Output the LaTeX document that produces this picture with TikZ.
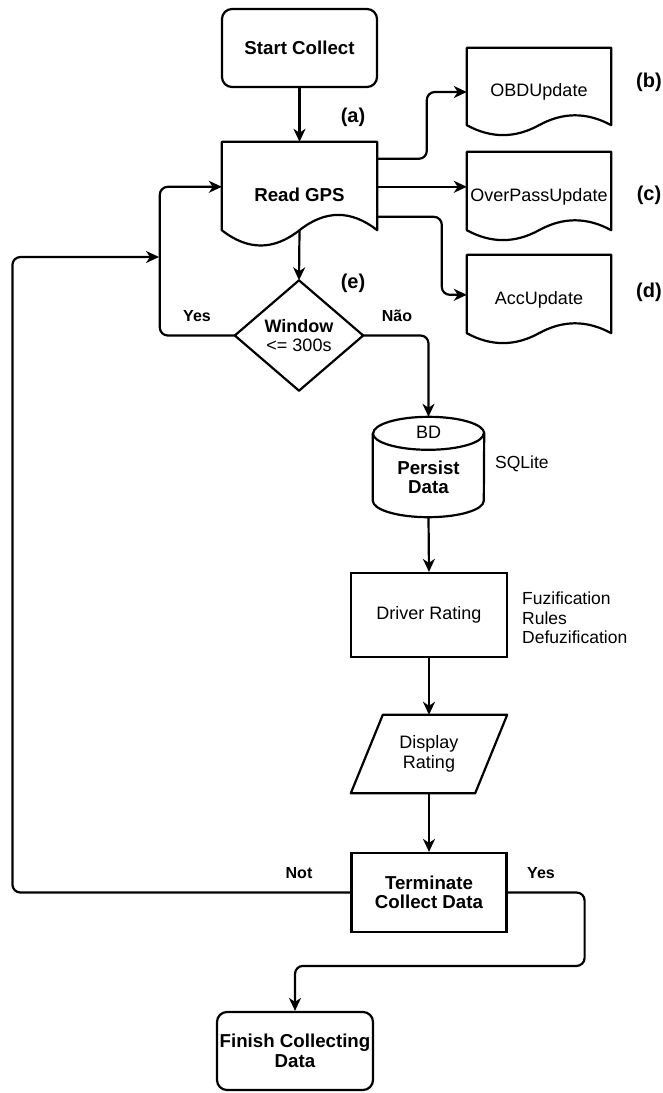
\documentclass[tikz,border=0pt]{standalone}
\usepackage{fontspec}
\setmainfont{Liberation Sans}
\usetikzlibrary{arrows.meta,calc}
\newcommand\flowdoc[3]{%
  \draw[shapeline] (#1.north west) -- (#1.north east) -- ($(#1.south east)+(0,-#3/2)$)
    .. controls ($(#1.south)+(#2/3,-1.1*#3)$) and ($(#1.south)+(#2/6,-1.1*#3)$) .. ($(#1.south)+(0,-#3/2)$)
    .. controls ($(#1.south)+(-#2/6,0.1*#3)$) and ($(#1.south)+(-#2/3,0.1*#3)$) .. ($(#1.south west)+(0,-#3/2)$)
    -- cycle;}
\newcommand\bt{\bfseries\fontsize{18.7}{20}\selectfont}
\begin{document}
\begin{tikzpicture}[x=1pt,y=-1pt,
  txt/.style={font=\fontsize{18}{19.5}\selectfont, align=center, inner sep=0pt, text=black},
  shapeline/.style={draw=black, line width=2.2pt, line join=round},
  hold/.style={txt, draw=none},
  box/.style={txt, draw=black, line width=2.2pt, minimum width=155pt, minimum height=79pt},
  rbox/.style={box, rounded corners=10pt},
  conn/.style={draw=black, line width=2.2pt, rounded corners=8pt, -{Stealth[length=13pt,width=12pt,inset=4pt]}},
  lbl/.style={font=\bfseries\fontsize{16}{18}\selectfont, inner sep=0pt},
  tag/.style={font=\bfseries\fontsize{20}{22}\selectfont, inner sep=0pt},
  side/.style={font=\fontsize{17.5}{19.5}\selectfont, align=left, anchor=west, inner sep=0pt}
]
\useasboundingbox[fill=white] (0,0) rectangle (662,1093);

% nodes
\node[rbox, minimum height=78pt] (start) at (299.5,48) {\bt Start Collect};

\node[hold, minimum width=155pt, minimum height=105pt] (gps) at (299.5,194.5) {\bt Read GPS};
\flowdoc{gps}{155}{34}

\node[hold, minimum width=144pt, minimum height=88pt] (obd) at (539,92) {OBDUpdate};
\flowdoc{obd}{144}{22}
\node[hold, minimum width=144pt, minimum height=89pt] (op) at (539,196.5) {OverPassUpdate};
\flowdoc{op}{144}{22}
\node[hold, minimum width=144pt, minimum height=89pt] (acc) at (539,299.5) {AccUpdate};
\flowdoc{acc}{144}{22}

\node[hold, minimum width=128pt, minimum height=110pt] (dec) at (299,335.5) {\bfseries Window\\ <= 300s};
\draw[shapeline] (dec.north) -- (dec.east) -- (dec.south) -- (dec.west) -- cycle;

\node[hold, minimum width=111pt, minimum height=100pt] (db) at (428.5,467) {};
\draw[shapeline] ($(db.north west)+(0,16.5)$) -- ($(db.south west)+(0,-16.5)$)
  arc[start angle=180, end angle=360, x radius=55.5pt, y radius=16.5pt]
  -- ($(db.north east)+(0,16.5)$)
  arc[start angle=0, end angle=180, x radius=55.5pt, y radius=16.5pt] -- cycle;
\draw[shapeline] ($(db.north west)+(0,16.5)$)
  arc[start angle=180, end angle=360, x radius=55.5pt, y radius=16.5pt];
\node[txt] (dbtop) at (428.5,432) {BD};
\node[txt] (dbtxt) at (428.5,477.5) {\bt Persist\\ \bt Data};

\node[box, minimum width=156pt, minimum height=84pt] (dr) at (429,615) {Driver Rating};

\node[hold, minimum width=156pt, minimum height=78pt] (disp) at (429,754) {Display\\Rating};
\draw[shapeline] ($(disp.north west)+(32,0)$) -- (disp.north east) -- ($(disp.south east)+(-32,0)$) -- (disp.south west) -- cycle;

\node[box] (term) at (429,892.5) {\bt Terminate\\ \bt Collect Data};

\node[rbox, minimum width=156pt, minimum height=78pt] (fin) at (295,1051) {\bt Finish Collecting\\ \bt Data};

% side texts
\node[side] (sql) at (495,464) {SQLite};
\node[side] (fuz) at (522,618) {Fuzification\\Rules\\Defuzification};

% tags
\node[tag] (ta) at (353,117) {(a)};
\node[tag] (tb) at (649,82) {(b)};
\node[tag] (tc) at (649,195) {(c)};
\node[tag] (td) at (649,292) {(d)};
\node[tag] (te) at (353,283) {(e)};

% connectors
\draw[conn] (start.south) -- (gps.north);
\draw[conn] ($(gps.north east)+(0,17)$) -| ($(obd.west)+(-40,0)$) -- (obd.west);
\draw[conn] ($(gps.north east)+(0,45)$) -- ($(op.north west)+(0,35)$);
\draw[conn] ($(gps.north east)+(0,75)$) -| ($(acc.north west)+(-25,40)$) -- ($(acc.north west)+(0,40)$);
\draw[conn] ($(gps.south)+(0,-17)$) -- (dec.north);
\draw[conn] (dec.west) -| ($(gps.north west)+(-62,45)$) -- ($(gps.north west)+(0,45)$);
\draw[conn] (dec.east) -| (db.north);
\draw[conn] (db.south) -- (dr.north);
\draw[conn] (dr.south) -- (disp.north);
\draw[conn] (disp.south) -- (term.north);
\coordinate (join) at (159,257);
\draw[conn] (term.west) -- ++(-338,0) |- (join);
\draw[conn] (term.east) -- ++(77,0) |- ($(fin.north)+(0,-45)$) -- (fin.north);

% connector labels
\node[lbl] (lyes) at (197,316) {Yes};
\node[lbl] (lnao) at (397,316) {Não};
\node[lbl] (lnot) at (299,873) {Not};
\node[lbl] (lyes2) at (541,873) {Yes};
\end{tikzpicture}
\end{document}
